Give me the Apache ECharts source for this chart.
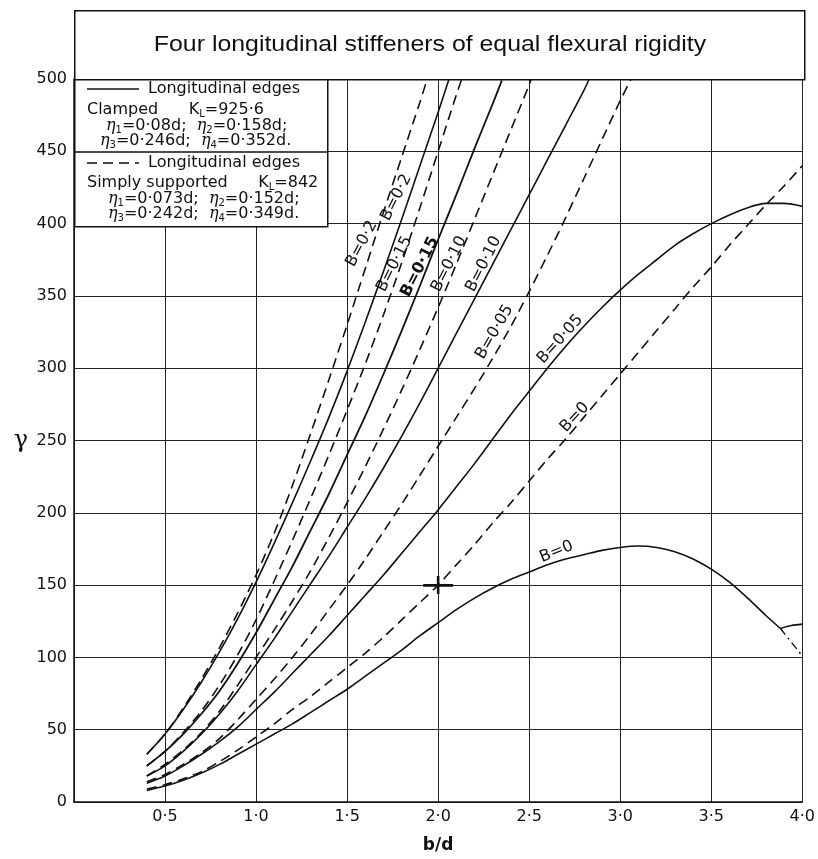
<!DOCTYPE html>
<html>
<head>
<meta charset="utf-8">
<script src="https://cdn.jsdelivr.net/npm/echarts@6/dist/echarts.min.js"></script>
<style>
  html, body { margin: 0; padding: 0; background: #fff; }
  #chart { width: 818px; height: 859px; }
</style>
</head>
<body>
<div id="chart"></div>
<script>
// b/d against gamma
// solid = longitudinal edges clamped, dashed = simply supported
var clampedB0 = [[0.4,8],[0.5,11],[0.6,15],[0.7,20],[0.8,26],[0.9,33],[1.0,40],[1.1,47],[1.2,54],[1.3,62],[1.4,70],[1.5,78],[1.6,87],[1.7,96],[1.8,105],[1.9,115],[2.0,124],[2.1,133],[2.2,141],[2.3,148],[2.4,154],[2.5,159],[2.6,164],[2.7,168],[2.8,171],[2.9,174],[3.0,176],[3.1,177],[3.2,176],[3.3,173],[3.4,168],[3.5,161],[3.6,152],[3.7,141],[3.8,129],[3.88,120]]
var clampedB0Tail = [[3.88,120],[3.94,122],[4.0,123]]
var clampedB0Drop = [[3.88,120],[4.0,101]]
var clampedB005 = [[0.4,13],[0.5,18],[0.6,25],[0.7,33],[0.8,42],[0.9,52],[1.0,64],[1.1,76],[1.2,89],[1.3,102],[1.4,115],[1.5,129],[1.6,143],[1.7,157],[1.8,172],[1.9,187],[2.0,202],[2.1,218],[2.2,234],[2.3,251],[2.4,268],[2.5,284],[2.6,300],[2.7,315],[2.8,329],[2.9,342],[3.0,354],[3.1,365],[3.2,375],[3.3,385],[3.4,393],[3.5,400],[3.6,406],[3.7,411],[3.8,414],[3.9,414],[4.0,412]]
var clampedB010 = [[0.4,18],[0.5,25],[0.6,35],[0.7,47],[0.8,61],[0.9,77],[1.0,95],[1.1,113],[1.2,132],[1.3,151],[1.4,170],[1.5,190],[1.6,210],[1.7,231],[1.8,253],[1.9,276],[2.0,300],[2.1,324],[2.2,348],[2.3,372],[2.4,396],[2.5,420],[2.6,444],[2.7,468],[2.8,492],[2.83,500]]
var clampedB015 = [[0.4,25],[0.5,35],[0.6,47],[0.7,61],[0.8,77],[0.9,96],[1.0,117],[1.1,140],[1.2,163],[1.3,188],[1.4,213],[1.5,240],[1.6,267],[1.7,296],[1.8,326],[1.9,357],[2.0,389],[2.1,420],[2.2,452],[2.3,483],[2.35,499]]
var clampedB02 = [[0.4,33],[0.5,47],[0.6,64],[0.7,83],[0.8,104],[0.9,127],[1.0,152],[1.1,179],[1.2,207],[1.3,236],[1.4,266],[1.5,298],[1.6,332],[1.7,367],[1.8,403],[1.9,440],[2.0,477],[2.06,500]]

var simpleB0 = [[0.4,9],[0.5,12],[0.6,16],[0.7,21],[0.8,28],[0.9,36],[1.0,45],[1.1,54],[1.2,64],[1.3,73],[1.4,83],[1.5,93],[1.6,103],[1.7,114],[1.8,126],[1.9,138],[2.0,150],[2.1,164],[2.2,178],[2.3,193],[2.4,207],[2.5,222],[2.6,237],[2.7,251],[2.8,266],[2.9,281],[3.0,296],[3.1,311],[3.2,326],[3.3,341],[3.4,356],[3.5,370],[3.6,385],[3.7,399],[3.8,413],[3.9,426],[4.0,440]]
var simpleB005 = [[0.4,14],[0.5,19],[0.6,26],[0.7,34],[0.8,44],[0.9,57],[1.0,71],[1.1,85],[1.2,100],[1.3,116],[1.4,133],[1.5,150],[1.6,168],[1.7,187],[1.8,206],[1.9,226],[2.0,246],[2.1,266],[2.2,286],[2.3,307],[2.4,329],[2.5,353],[2.6,378],[2.7,404],[2.8,431],[2.9,458],[3.0,485],[3.06,500]]
var simpleB010 = [[0.4,18],[0.5,26],[0.6,36],[0.7,48],[0.8,63],[0.9,81],[1.0,100],[1.1,119],[1.2,139],[1.3,160],[1.4,183],[1.5,207],[1.6,232],[1.7,258],[1.8,285],[1.9,313],[2.0,342],[2.1,372],[2.2,403],[2.3,434],[2.4,465],[2.5,496],[2.51,500]]
var simpleB015 = [[0.4,25],[0.5,35],[0.6,48],[0.7,63],[0.8,81],[0.9,102],[1.0,126],[1.1,153],[1.2,181],[1.3,210],[1.4,240],[1.5,271],[1.6,303],[1.7,337],[1.8,373],[1.9,411],[2.0,450],[2.1,489],[2.13,500]]
var simpleB02 = [[0.4,33],[0.5,47],[0.6,65],[0.7,85],[0.8,107],[0.9,131],[1.0,157],[1.1,186],[1.2,219],[1.3,255],[1.4,292],[1.5,330],[1.6,369],[1.7,408],[1.8,446],[1.9,484],[1.94,500]]

var markedPoint = [[2.0,150]]

// curve labels: text, where it sits, angle
var labelTexts  = ['B=0·2','B=0·2','B=0·15','B=0·15','B=0·10','B=0·10','B=0·05','B=0·05','B=0','B=0']
var labelAt     = [[1.58,386],[1.77,418],[1.76,372],[1.90,370],[2.06,372],[2.25,372],[2.31,325],[2.67,320],[2.75,266],[2.65,173]]
var labelAngles = [62,63,63,63,63,63,60,48,47,22]
var labelBold   = [false,false,false,true,false,false,false,false,false,false]

var title = 'Four longitudinal stiffeners of equal flexural rigidity'

var dashed = [10, 6]
var ink = '#111'
var font = 'DejaVu Sans'

function curve(data, type, width) {
  return {
    type: 'line',
    data: data,
    smooth: 0.3,
    symbol: 'none',
    silent: true,
    lineStyle: { color: ink, width: width || 1.6, type: type },
    z: 3
  }
}

function dot(v) {
  return v.toFixed(1).replace('.', '·')
}

var labelData = labelTexts.map(function (t, i) {
  return {
    value: labelAt[i],
    label: {
      show: true,
      formatter: t,
      rotate: labelAngles[i],
      color: ink,
      fontWeight: labelBold[i] ? 'bold' : 'normal'
    }
  }
})

// sub/italic pieces for the key text
var keyRich = {
  e: { fontFamily: 'DejaVu Serif', fontStyle: 'italic', fontSize: 16, fill: ink },
  s: { fontFamily: font, fontSize: 10, padding: [9, 0, 0, 0], fill: ink }
}

function keyText(left, top, text) {
  return {
    type: 'text', left: left, top: top, z: 11,
    style: { text: text, fontFamily: font, fontSize: 16, fill: ink, rich: keyRich }
  }
}

var chart = echarts.init(document.getElementById('chart'))

chart.setOption({
  animation: false,
  backgroundColor: '#fff',
  grid: { left: 74, right: 14, top: 79, bottom: 45 },
  xAxis: {
    type: 'value',
    min: 0,
    max: 4,
    interval: 0.5,
    name: 'b/d',
    nameLocation: 'middle',
    nameGap: 35,
    nameTextStyle: { fontFamily: font, fontSize: 17, fontWeight: 'bold', color: ink },
    axisLine: { show: true, lineStyle: { color: ink, width: 1.5 } },
    axisTick: { show: false },
    axisLabel: {
      color: ink, fontFamily: font, fontSize: 16, margin: 7,
      formatter: function (v) { return v === 0 ? '' : dot(v) }
    },
    splitLine: { show: true, lineStyle: { color: '#222', width: 1 } }
  },
  yAxis: {
    type: 'value',
    min: 0,
    max: 500,
    interval: 50,
    name: 'γ',
    nameLocation: 'middle',
    nameRotate: 0,
    nameGap: 46,
    nameTextStyle: { fontFamily: 'DejaVu Serif', fontSize: 24, color: ink },
    axisLine: { show: true, lineStyle: { color: ink, width: 1.5 } },
    axisTick: { show: false },
    axisLabel: { color: ink, fontFamily: font, fontSize: 16, margin: 7 },
    splitLine: { show: true, lineStyle: { color: '#222', width: 1 } }
  },
  series: [
    curve(clampedB0, 'solid'),
    curve(clampedB0Tail, 'solid'),
    curve(clampedB0Drop, [8, 4, 2, 4], 1.4),
    curve(clampedB005, 'solid'),
    curve(clampedB010, 'solid'),
    curve(clampedB015, 'solid', 1.8),
    curve(clampedB02, 'solid'),
    curve(simpleB0, dashed),
    curve(simpleB005, dashed),
    curve(simpleB010, dashed),
    curve(simpleB015, dashed),
    curve(simpleB02, dashed),
    {
      type: 'scatter',
      data: markedPoint,
      symbol: 'path://M0,8h30v2.6h-30z M13.7,0h2.6v18h-2.6z',
      symbolSize: [30, 18],
      itemStyle: { color: ink, opacity: 1 },
      silent: true,
      z: 4
    },
    {
      // scatter fades items to 0.8 by default, labels included
      type: 'scatter',
      data: labelData,
      symbolSize: 1,
      itemStyle: { color: 'rgba(0,0,0,0)', opacity: 1 },
      silent: true,
      label: {
        show: true,
        position: 'inside',
        color: ink,
        opacity: 1,
        fontFamily: font,
        fontSize: 16
      },
      z: 5
    }
  ],
  graphic: [
    // title box
    {
      type: 'rect', left: 74, top: 10, z: 10,
      shape: { width: 730, height: 69 },
      style: { fill: '#fff', stroke: ink, lineWidth: 1.5 }
    },
    {
      type: 'text', x: 430, y: 45, scaleX: 1.13, z: 11,
      style: { text: title, fontFamily: 'Liberation Sans', fontSize: 22, fill: ink, align: 'center', verticalAlign: 'middle' }
    },
    // key box
    {
      type: 'rect', left: 74, top: 79, z: 10,
      shape: { width: 253, height: 147 },
      style: { fill: '#fff', stroke: ink, lineWidth: 1.5 }
    },
    {
      type: 'line', z: 11,
      shape: { x1: 74, y1: 152, x2: 327, y2: 152 },
      style: { stroke: ink, lineWidth: 1.5 }
    },
    {
      type: 'line', z: 11,
      shape: { x1: 87, y1: 89, x2: 139, y2: 89 },
      style: { stroke: ink, lineWidth: 1.5 }
    },
    {
      type: 'line', z: 11,
      shape: { x1: 87, y1: 163, x2: 139, y2: 163 },
      style: { stroke: ink, lineWidth: 1.5, lineDash: [10, 6] }
    },
    keyText(148, 81, 'Longitudinal edges'),
    keyText(87, 102, 'Clamped      K{s|L}=925·6'),
    keyText(106, 118, '{e|η}{s|1}=0·08d;  {e|η}{s|2}=0·158d;'),
    keyText(100, 133, '{e|η}{s|3}=0·246d;  {e|η}{s|4}=0·352d.'),
    keyText(148, 155, 'Longitudinal edges'),
    keyText(87, 175, 'Simply supported      K{s|L}=842'),
    keyText(108, 191, '{e|η}{s|1}=0·073d;  {e|η}{s|2}=0·152d;'),
    keyText(108, 206, '{e|η}{s|3}=0·242d;  {e|η}{s|4}=0·349d.')
  ]
})
</script>
</body>
</html>
